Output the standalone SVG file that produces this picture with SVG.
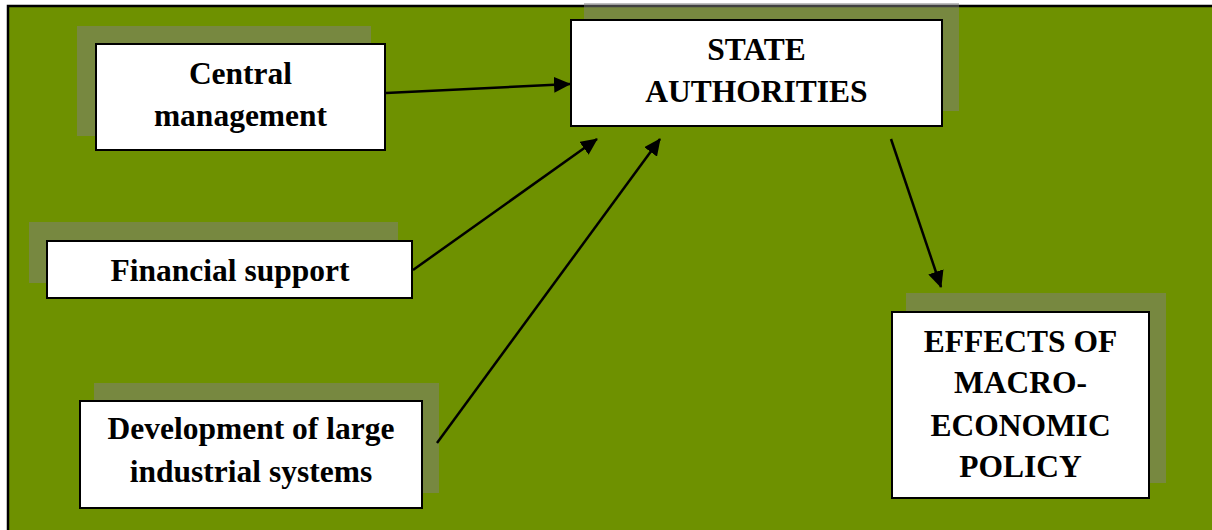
<svg xmlns="http://www.w3.org/2000/svg" width="1212" height="530" viewBox="0 0 1212 530">
<style>
.shadow{fill:#808080;fill-opacity:0.5}
.box{fill:#ffffff;stroke:#000000;stroke-width:2}
.lbl{font-family:"Liberation Serif","Times New Roman",serif;font-weight:bold;font-size:31.5px;fill:#000000;text-anchor:middle}
.conn{stroke:#000000;stroke-width:2.5;fill:none;marker-end:url(#arrow)}
</style>
<defs>
<marker id="arrow" markerUnits="userSpaceOnUse" markerWidth="18" markerHeight="16" refX="16" refY="8" orient="auto">
<path d="M0,0 L17,8 L0,16 Z" fill="#000000"/>
</marker>
</defs>
<rect x="0" y="0" width="1212" height="530" fill="#ffffff"/>
<rect x="7" y="5" width="1205" height="525" fill="#6e9100"/>
<path d="M8,530 L8,6 L1212,6" fill="none" stroke="#000000" stroke-width="2.5"/>

<g id="central-management">
<rect class="shadow" x="77" y="26" width="294" height="110"/>
<rect class="box" x="96" y="44" width="289" height="106"/>
<text class="lbl" x="240.5" y="84">Central</text>
<text class="lbl" x="240.5" y="126">management</text>
</g>

<g id="state-authorities">
<rect class="shadow" x="584" y="3" width="375" height="108"/>
<rect class="box" x="571" y="20" width="371" height="106"/>
<text class="lbl" x="756.5" y="60">STATE</text>
<text class="lbl" x="756.5" y="102">AUTHORITIES</text>
</g>

<g id="financial-support">
<rect class="shadow" x="29" y="222" width="369" height="61"/>
<rect class="box" x="47" y="241" width="365" height="57"/>
<text class="lbl" x="230" y="281">Financial support</text>
</g>

<g id="development">
<rect class="shadow" x="94" y="383" width="345" height="110"/>
<rect class="box" x="80" y="401" width="342" height="107"/>
<text class="lbl" x="251" y="439">Development of large</text>
<text class="lbl" x="251" y="482">industrial systems</text>
</g>

<g id="effects">
<rect class="shadow" x="906" y="293" width="260" height="190"/>
<rect class="box" x="892" y="312" width="257" height="186"/>
<text class="lbl" x="1020.5" y="352">EFFECTS OF</text>
<text class="lbl" x="1020.5" y="393">MACRO-</text>
<text class="lbl" x="1020.5" y="436">ECONOMIC</text>
<text class="lbl" x="1020.5" y="477">POLICY</text>
</g>

<g id="connectors">
<line class="conn" x1="386" y1="93" x2="570" y2="84"/>
<line class="conn" x1="413" y1="270" x2="597" y2="139"/>
<line class="conn" x1="437" y1="443" x2="660" y2="139"/>
<line class="conn" x1="891" y1="139" x2="941" y2="287"/>
</g>
</svg>
